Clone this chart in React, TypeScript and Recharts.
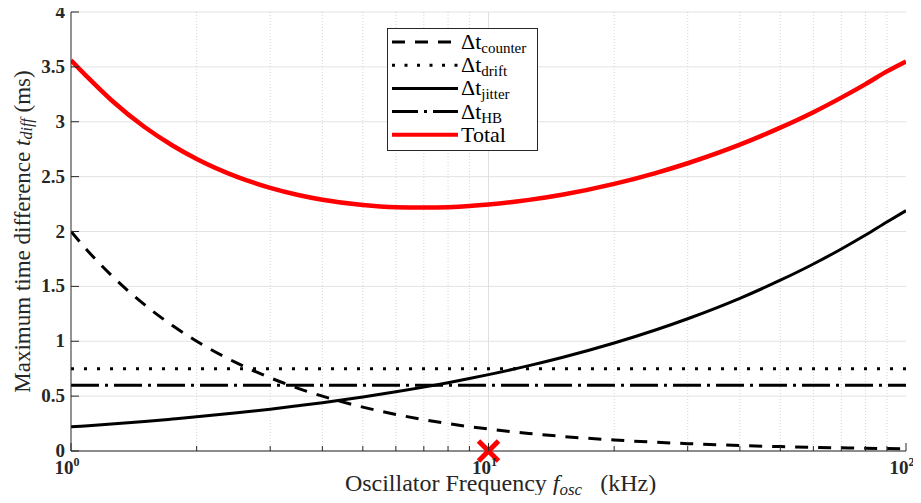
import React from "react";
import {
  ComposedChart,
  Line,
  XAxis,
  YAxis,
  CartesianGrid,
  ReferenceLine,
  ReferenceDot,
} from "recharts";

const freqs = [1, 1.1, 1.25, 1.5, 1.75, 2, 2.5, 3, 3.5, 4, 5, 6, 7, 8, 9, 10, 12.5, 15, 20, 25, 30, 40, 50, 60, 70, 80, 90, 100];
const counterVals = [2.0, 1.818, 1.6, 1.333, 1.143, 1.0, 0.8, 0.667, 0.571, 0.5, 0.4, 0.333, 0.286, 0.25, 0.222, 0.2, 0.16, 0.133, 0.1, 0.08, 0.067, 0.05, 0.04, 0.033, 0.029, 0.025, 0.022, 0.02];
const driftVals = [0.75, 0.75, 0.75, 0.75, 0.75, 0.75, 0.75, 0.75, 0.75, 0.75, 0.75, 0.75, 0.75, 0.75, 0.75, 0.75, 0.75, 0.75, 0.75, 0.75, 0.75, 0.75, 0.75, 0.75, 0.75, 0.75, 0.75, 0.75];
const jitterVals = [0.22, 0.231, 0.246, 0.269, 0.291, 0.311, 0.348, 0.381, 0.412, 0.44, 0.492, 0.539, 0.582, 0.622, 0.66, 0.696, 0.778, 0.852, 0.984, 1.1, 1.205, 1.391, 1.556, 1.704, 1.841, 1.968, 2.087, 2.19];
const hbVals = [0.6, 0.6, 0.6, 0.6, 0.6, 0.6, 0.6, 0.6, 0.6, 0.6, 0.6, 0.6, 0.6, 0.6, 0.6, 0.6, 0.6, 0.6, 0.6, 0.6, 0.6, 0.6, 0.6, 0.6, 0.6, 0.6, 0.6, 0.6];
const totalVals = [3.56, 3.399, 3.196, 2.952, 2.784, 2.661, 2.498, 2.398, 2.333, 2.29, 2.242, 2.222, 2.218, 2.222, 2.232, 2.246, 2.288, 2.335, 2.434, 2.53, 2.622, 2.791, 2.946, 3.087, 3.22, 3.343, 3.459, 3.55];

const xMajorTicks = [1, 10, 100];
const xMinorTicks = [2, 3, 4, 5, 6, 7, 8, 9, 20, 30, 40, 50, 60, 70, 80, 90];
const xAllTicks = [1, 2, 3, 4, 5, 6, 7, 8, 9, 10, 20, 30, 40, 50, 60, 70, 80, 90, 100];
const xTickExponents: Record<number, string> = { 1: "0", 10: "1", 100: "2" };
const yTicks = [0, 0.5, 1, 1.5, 2, 2.5, 3, 3.5, 4];
const optimumPoint = { f: 10, v: 0 };

const legendItems = [
  { key: "counter", base: "Δt", sub: "counter", color: "#000", dash: "13 10", width: 3 },
  { key: "drift", base: "Δt", sub: "drift", color: "#000", dash: "3 9.5", width: 3 },
  { key: "jitter", base: "Δt", sub: "jitter", color: "#000", dash: undefined, width: 3 },
  { key: "hb", base: "Δt", sub: "HB", color: "#000", dash: "26 6 3 6", width: 3 },
  { key: "total", base: "Total", sub: "", color: "#ff0000", dash: undefined, width: 4 },
];

const data = freqs.map((f, i) => ({
  f,
  counter: counterVals[i],
  drift: driftVals[i],
  jitter: jitterVals[i],
  hb: hbVals[i],
  total: totalVals[i],
}));

const FONT = "Liberation Serif, Times New Roman, serif";
const AXIS_COLOR = "#262626";

const XTickBottom = (props: any) => {
  const { x, y, payload } = props;
  const v = payload.value;
  const major = xMajorTicks.includes(v);
  return (
    <g>
      <line x1={x} y1={y} x2={x} y2={y - (major ? 8 : 5)} stroke={AXIS_COLOR} strokeWidth={1} />
      {major && (
        <text x={x - 4} y={y + 23} textAnchor="middle" fontFamily={FONT} fontWeight="bold" fontSize={19} fill={AXIS_COLOR}>
          10
          <tspan dy={-8} fontSize={12}>{xTickExponents[v]}</tspan>
        </text>
      )}
    </g>
  );
};

const XTickTop = (props: any) => {
  const { x, y, payload } = props;
  const major = xMajorTicks.includes(payload.value);
  return <line x1={x} y1={y} x2={x} y2={y + (major ? 8 : 5)} stroke={AXIS_COLOR} strokeWidth={1} />;
};

const YTickLeft = (props: any) => {
  const { x, y, payload } = props;
  return (
    <g>
      <line x1={x} y1={y} x2={x + 8} y2={y} stroke={AXIS_COLOR} strokeWidth={1} />
      <text x={x - 6} y={y + 6} textAnchor="end" fontFamily={FONT} fontWeight="bold" fontSize={19} fill={AXIS_COLOR}>
        {String(payload.value)}
      </text>
    </g>
  );
};

const YTickRight = (props: any) => {
  const { x, y } = props;
  return <line x1={x} y1={y} x2={x - 8} y2={y} stroke={AXIS_COLOR} strokeWidth={1} />;
};

const XMark = (props: any) => {
  const { cx, cy } = props;
  const s = 10;
  return (
    <g>
      <line x1={cx - s} y1={cy - s} x2={cx + s} y2={cy + s} stroke="#ff0000" strokeWidth={5} />
      <line x1={cx - s} y1={cy + s} x2={cx + s} y2={cy - s} stroke="#ff0000" strokeWidth={5} />
    </g>
  );
};

const LegendBox = () => (
  <svg width={151} height={123} style={{ display: "block", fontFamily: FONT }}>
    <rect x={0.5} y={0.5} width={150} height={122} fill="#fff" stroke={AXIS_COLOR} strokeWidth={1} />
    {legendItems.map((it, i) => {
      const cy = 14 + i * 23.2;
      return (
        <g key={it.key}>
          <line x1={5} y1={cy} x2={71} y2={cy} stroke={it.color} strokeWidth={it.width} strokeDasharray={it.dash} />
          <text x={74} y={cy + 7} fontFamily={FONT} style={{ fontFamily: FONT }} fontSize={22} fill="#000">
            {it.base}
            {it.sub && (
              <tspan dy={4} fontSize={15}>
                {it.sub}
              </tspan>
            )}
          </text>
        </g>
      );
    })}
  </svg>
);

const XTitle = (props: any) => {
  const { viewBox } = props;
  const cx = viewBox.x + viewBox.width / 2 + 12;
  return (
    <text x={cx} y={viewBox.y + 40} textAnchor="middle" fontFamily={FONT} fontSize={24} fill={AXIS_COLOR} style={{ whiteSpace: "pre" }}>
      {"Oscillator Frequency "}
      <tspan fontStyle="italic">f</tspan>
      <tspan fontStyle="italic" fontSize={17} dy={4}>osc</tspan>
      <tspan dy={-4}>{"   (kHz)"}</tspan>
    </text>
  );
};

const YTitle = (props: any) => {
  const { viewBox } = props;
  const cy = viewBox.y + viewBox.height / 2;
  const x = 22;
  return (
    <text x={x} y={cy} transform={`rotate(-90, ${x}, ${cy})`} textAnchor="middle" dominantBaseline="central" fontFamily={FONT} fontSize={23} fill={AXIS_COLOR} style={{ whiteSpace: "pre" }}>
      {"Maximum time difference "}
      <tspan fontStyle="italic">t</tspan>
      <tspan fontStyle="italic" fontSize={16} dy={4}>diff</tspan>
      <tspan dy={-4}>{" (ms)"}</tspan>
    </text>
  );
};

export default function App() {
  return (
    <div style={{ position: "relative", width: 921, height: 503, margin: -8, background: "#fff" }}>
      <ComposedChart width={921} height={503} data={data} margin={{ top: 12, right: 15, bottom: 0, left: 0 }}>
        <CartesianGrid vertical={false} stroke="#e3e3e3" strokeWidth={1} />
        {xMinorTicks.map((t) => (
          <ReferenceLine key={"g" + t} x={t} stroke="#d4d4d4" strokeDasharray="1 2" strokeWidth={1} />
        ))}
        <ReferenceLine x={10} stroke="#e0e0e0" strokeWidth={1} />
        <XAxis
          dataKey="f"
          type="number"
          scale="log"
          domain={[1, 100]}
          ticks={xAllTicks}
          interval={0}
          allowDataOverflow
          height={52}
          tickSize={0}
          tickMargin={0}
          tick={<XTickBottom />}
          axisLine={{ stroke: AXIS_COLOR, strokeWidth: 1 }}
          label={<XTitle />}
        />
        <XAxis
          xAxisId="top"
          orientation="top"
          dataKey="f"
          type="number"
          scale="log"
          domain={[1, 100]}
          ticks={xAllTicks}
          interval={0}
          allowDataOverflow
          height={0}
          tickSize={0}
          tickMargin={0}
          tick={<XTickTop />}
          axisLine={{ stroke: AXIS_COLOR, strokeWidth: 1 }}
        />
        <YAxis
          type="number"
          domain={[0, 4]}
          ticks={yTicks}
          interval={0}
          width={71}
          tickSize={0}
          tickMargin={0}
          tick={<YTickLeft />}
          axisLine={{ stroke: AXIS_COLOR, strokeWidth: 1 }}
          label={<YTitle />}
        />
        <YAxis
          yAxisId="right"
          orientation="right"
          type="number"
          domain={[0, 4]}
          ticks={yTicks}
          interval={0}
          width={0}
          tickSize={0}
          tickMargin={0}
          tick={<YTickRight />}
          axisLine={{ stroke: AXIS_COLOR, strokeWidth: 1 }}
        />
        <Line type="monotone" dataKey="counter" stroke="#000" strokeWidth={3} strokeDasharray="13 10" dot={false} isAnimationActive={false} />
        <Line type="monotone" dataKey="drift" stroke="#000" strokeWidth={3} strokeDasharray="3 10" dot={false} isAnimationActive={false} />
        <Line type="monotone" dataKey="jitter" stroke="#000" strokeWidth={3} dot={false} isAnimationActive={false} />
        <Line type="monotone" dataKey="hb" stroke="#000" strokeWidth={3} strokeDasharray="28 6 3 6" dot={false} isAnimationActive={false} />
        <Line type="monotone" dataKey="total" stroke="#ff0000" strokeWidth={4.5} dot={false} isAnimationActive={false} />
        <ReferenceDot x={optimumPoint.f} y={optimumPoint.v} ifOverflow="visible" shape={<XMark />} />
      </ComposedChart>
      <div style={{ position: "absolute", left: 387, top: 28 }}>
        <LegendBox />
      </div>
    </div>
  );
}
